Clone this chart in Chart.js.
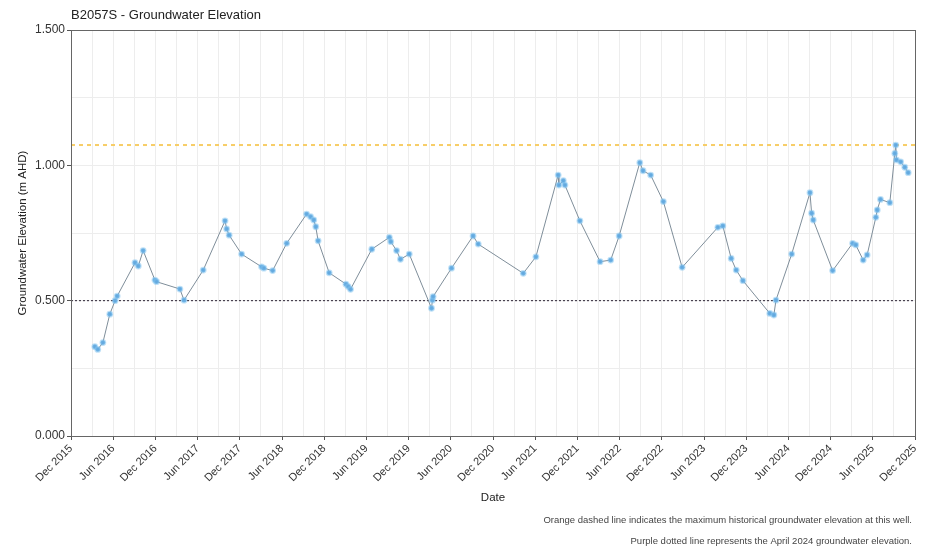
<!DOCTYPE html>
<html>
<head>
<meta charset="utf-8">
<script src="https://cdn.jsdelivr.net/npm/chart.js@4/dist/chart.umd.min.js"></script>
<style>
  html, body { margin: 0; padding: 0; background: #fff; }
  #wrap { width: 932px; height: 548px; position: relative; }
</style>
</head>
<body>
<div id="wrap"><canvas id="c"></canvas></div>
<script>
// Bore B2057S groundwater readings
const sampleDates = [
  '2016-03-13','2016-03-26','2016-04-17','2016-05-17','2016-06-09','2016-06-18',
  '2016-09-04','2016-09-18','2016-10-09','2016-11-29','2016-12-06',
  '2017-03-16','2017-04-03','2017-06-25','2017-09-28','2017-10-05','2017-10-16','2017-12-09',
  '2018-03-04','2018-03-14','2018-04-21','2018-06-21','2018-09-16','2018-10-03','2018-10-17',
  '2018-10-26','2018-11-05','2018-12-23',
  '2019-03-04','2019-03-14','2019-03-24','2019-06-24','2019-09-09','2019-09-15','2019-10-10',
  '2019-10-27','2019-12-04',
  '2020-03-09','2020-03-13','2020-03-16','2020-06-04','2020-09-06','2020-09-28',
  '2021-04-10','2021-06-04','2021-09-09','2021-09-12','2021-10-01','2021-10-08','2021-12-12',
  '2022-03-08','2022-04-23','2022-05-30','2022-08-28','2022-09-11','2022-10-14','2022-12-08',
  '2023-02-26','2023-07-31','2023-08-22','2023-09-27','2023-10-19','2023-11-17',
  '2024-03-12','2024-03-30','2024-04-08','2024-06-15','2024-09-03','2024-09-10','2024-09-17',
  '2024-12-10',
  '2025-03-05','2025-03-19','2025-04-20','2025-05-07','2025-06-14','2025-06-20','2025-07-04',
  '2025-08-14','2025-09-05','2025-09-09','2025-09-12','2025-09-30','2025-10-18','2025-11-02'
];
const elevations = [
  0.330,0.320,0.345,0.450,0.500,0.517,
  0.640,0.628,0.685,0.576,0.570,
  0.543,0.502,0.613,0.795,0.765,0.742,0.672,
  0.625,0.620,0.611,0.712,0.820,0.810,0.798,
  0.773,0.721,0.603,
  0.561,0.552,0.542,0.690,0.734,0.718,0.685,
  0.653,0.672,
  0.472,0.502,0.515,0.620,0.739,0.709,
  0.601,0.662,0.964,0.927,0.943,0.927,0.795,
  0.644,0.650,0.739,1.010,0.980,0.964,0.866,
  0.623,0.771,0.776,0.656,0.613,0.574,
  0.453,0.447,0.502,0.672,0.899,0.823,0.798,
  0.611,
  0.712,0.706,0.650,0.669,0.808,0.835,0.874,
  0.862,1.044,1.075,1.020,1.013,0.993,0.973
];
const maxHistorical = 1.075;   // highest recorded elevation
const april2024Level = 0.500;  // April 2024 elevation

const axisStart = { year: 2015, month: 12 };
const axisMonths = 120;
const yTickLabels = ['0.000', '0.500', '1.000', '1.500'];
const monthNames = ['Jan','Feb','Mar','Apr','May','Jun','Jul','Aug','Sep','Oct','Nov','Dec'];

// months elapsed since the start of the axis (fractional)
function monthOffset(s) {
  const [y, m, d] = s.split('-').map(Number);
  const dim = new Date(y, m, 0).getDate();
  return (y - axisStart.year) * 12 + (m - axisStart.month) + (d - 1) / dim;
}
function monthLabel(v) {
  const total = axisStart.year * 12 + (axisStart.month - 1) + v;
  const y = Math.floor(total / 12);
  return monthNames[total - y * 12] + ' ' + y;
}

const points = sampleDates.map((d, i) => ({ x: monthOffset(d), y: elevations[i] }));
const FONT = '"Liberation Sans", Arial, sans-serif';

const overlay = {
  id: 'overlay',
  afterDraw(chart) {
    const { ctx, chartArea: a } = chart;
    ctx.save();
    ctx.strokeStyle = '#666';
    ctx.lineWidth = 1;
    ctx.strokeRect(a.left + 0.5, a.top + 0.5, a.right - a.left, a.bottom - a.top);

    ctx.fillStyle = '#222';
    ctx.font = '13px ' + FONT;
    ctx.textAlign = 'left';
    ctx.textBaseline = 'alphabetic';
    ctx.fillText('B2057S - Groundwater Elevation', a.left, 19);

    ctx.font = '11.5px ' + FONT;
    ctx.textAlign = 'center';
    ctx.fillText('Date', (a.left + a.right) / 2, 501);

    ctx.save();
    ctx.translate(26, (a.top + a.bottom) / 2);
    ctx.rotate(-Math.PI / 2);
    ctx.fillText('Groundwater Elevation (m AHD)', 0, 0);
    ctx.restore();

    ctx.fillStyle = '#444';
    ctx.font = '9.5px ' + FONT;
    ctx.textAlign = 'right';
    ctx.fillText('Orange dashed line indicates the maximum historical groundwater elevation at this well.', 912, 523);
    ctx.fillText('Purple dotted line represents the April 2024 groundwater elevation.', 912, 544);
    ctx.restore();
  }
};

new Chart(document.getElementById('c'), {
  type: 'line',
  data: {
    datasets: [
      {
        label: 'Groundwater Elevation',
        data: points,
        borderColor: '#7f8e9a',
        borderWidth: 1,
        pointRadius: 2.4,
        pointBackgroundColor: '#64a9df',
        pointBorderColor: 'rgba(130,195,240,0.5)',
        pointBorderWidth: 2,
        tension: 0,
        order: 1
      },
      {
        label: 'Maximum historical',
        data: [{ x: 0, y: maxHistorical }, { x: axisMonths, y: maxHistorical }],
        borderColor: '#f7cd66',
        borderWidth: 2,
        borderDash: [4, 4],
        pointRadius: 0,
        order: 3
      },
      {
        label: 'April 2024',
        data: [{ x: 0, y: april2024Level }, { x: axisMonths, y: april2024Level }],
        borderColor: '#2a2233',
        borderWidth: 1,
        borderDash: [2, 2],
        pointRadius: 0,
        order: 2
      }
    ]
  },
  options: {
    responsive: true,
    maintainAspectRatio: false,
    animation: false,
    layout: { padding: { left: 0, right: 17, top: 30, bottom: 0 } },
    plugins: { legend: { display: false }, title: { display: false }, tooltip: { enabled: false } },
    scales: {
      x: {
        type: 'linear',
        min: 0,
        max: axisMonths,
        afterFit(s) { s.height = 112; },
        grid: {
          color: '#ededed',
          tickLength: 4,
          tickColor: (c) => (c.tick && c.tick.value % 6 === 0) ? '#555' : 'rgba(0,0,0,0)'
        },
        border: { display: true, color: '#666' },
        ticks: {
          stepSize: 3,
          autoSkip: false,
          minRotation: 45,
          maxRotation: 45,
          padding: 2,
          color: '#333',
          font: { family: FONT, size: 11 },
          callback: (v) => (v % 6 === 0) ? monthLabel(v) : ''
        }
      },
      y: {
        min: 0,
        max: 1.5,
        afterFit(s) { s.width = 71; },
        grid: {
          color: '#ededed',
          tickLength: 4,
          tickColor: (c) => (c.tick && Math.abs(c.tick.value * 2 - Math.round(c.tick.value * 2)) < 1e-6) ? '#555' : 'rgba(0,0,0,0)'
        },
        border: { display: true, color: '#666' },
        ticks: {
          stepSize: 0.25,
          padding: 2,
          color: '#333',
          font: { family: FONT, size: 12 },
          callback: (v) => {
            const i = Math.round(v * 2);
            return Math.abs(v * 2 - i) < 1e-6 ? yTickLabels[i] : '';
          }
        }
      }
    }
  },
  plugins: [overlay]
});
</script>
</body>
</html>
